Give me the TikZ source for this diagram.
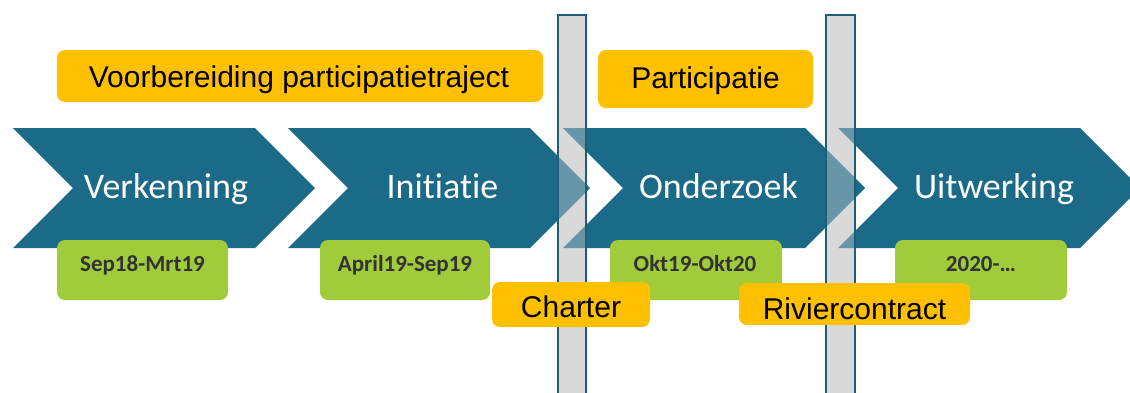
\documentclass[tikz,border=0pt]{standalone}
\usepackage{fontspec}
\setmainfont{Liberation Sans}
\newfontfamily\calibrifont[Ligatures=NoCommon]{Carlito}
\definecolor{chevteal}{HTML}{1B6A88}
\definecolor{barline}{HTML}{1E5E78}
\definecolor{bargray}{HTML}{D9D9D9}
\definecolor{orangebox}{HTML}{FFC000}
\definecolor{greenbox}{HTML}{A0CB3A}
\definecolor{greentext}{HTML}{333333}
\tikzset{
  chevtext/.style={text=white, font=\calibrifont\fontsize{36}{40}\selectfont, anchor=base, inner sep=0pt},
  gbox/.style={fill=greenbox, rounded corners=8pt, inner sep=0pt},
  gtext/.style={text=greentext, font=\calibrifont\bfseries\fontsize{23}{26}\selectfont, anchor=base, inner sep=0pt},
  obox/.style={fill=orangebox, rounded corners=8pt, inner sep=0pt},
  otext/.style={text=black, font=\fontsize{30}{34}\selectfont, anchor=base, inner sep=0pt},
  barfill/.style={fill=bargray},
  barborder/.style={draw=barline, line width=1.3pt},
}
\begin{document}
\begin{tikzpicture}[x=1pt,y=-1pt]
\useasboundingbox (0,0) rectangle (1130,392);
\clip (0,0) rectangle (1130,392);
% chevrons
\foreach \lx in {13,288,563,838}{
  \fill[chevteal] (\lx,128) -- ++(242,0) -- ++(60,60) -- ++(-60,60) -- ++(-242,0) -- ++(60,-60) -- cycle;
}
% bars
\fill[barfill] (558,15) rectangle (586,400);
\fill[barfill] (826,15) rectangle (855,400);
\begin{scope}
  \clip (558,15) rectangle (586,400) (826,15) rectangle (855,400);
  \foreach \lx in {13,288,563,838}{
    \fill[chevteal, fill opacity=0.6] (\lx,128) -- ++(242,0) -- ++(60,60) -- ++(-60,60) -- ++(-242,0) -- ++(60,-60) -- cycle;
  }
\end{scope}
\draw[barborder] (558,400) -- (558,15) -- (586,15) -- (586,400);
\draw[barborder] (826,400) -- (826,15) -- (855,15) -- (855,400);
% chevron labels
\node[chevtext] (verk) at (166,198) {Verkenning};
\node[chevtext] (init) at (442.5,198) {Initiatie};
\node[chevtext] (onde) at (718.5,198) {Onderzoek};
\node[chevtext] (uitw) at (994,198) {Uitwerking};
% green boxes
\fill[gbox] (57,240) rectangle (228,300);
\fill[gbox] (320,240) rectangle (490,300);
\fill[gbox] (610,240) rectangle (782,300);
\fill[gbox] (895,240) rectangle (1067,300);
\node[gtext] (d1) at (142.5,271.5) {Sep18-Mrt19};
\node[gtext] (d2) at (405,271.5) {April19-Sep19};
\node[gtext] (d3) at (695,271.5) {Okt19-Okt20};
\node[gtext] (d4) at (981,271.5) {2020-\dots};
% orange boxes
\fill[obox] (57,50) rectangle (543,102);
\node[otext] (voor) at (299,87) {Voorbereiding participatietraject};
\fill[obox] (598,50) rectangle (813,108);
\node[otext] (part) at (705.5,88) {Participatie};
\fill[obox] (492,282) rectangle (650,327);
\node[otext] (chart) at (571,317.5) {Charter};
\fill[obox] (739,283) rectangle (970,325);
\node[otext] (rivier) at (854.5,319.5) {Riviercontract};
\end{tikzpicture}
\end{document}
